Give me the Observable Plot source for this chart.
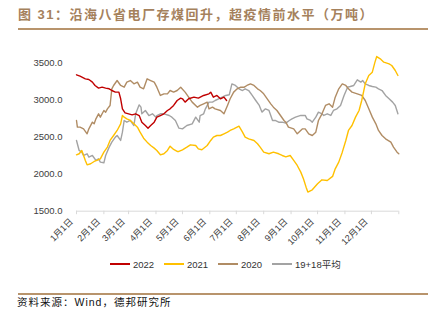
<!DOCTYPE html>
<html><head><meta charset="utf-8">
<script src="https://cdn.jsdelivr.net/npm/d3@7"></script>
<script src="https://cdn.jsdelivr.net/npm/@observablehq/plot@0.6"></script>
<style>
body{margin:0;background:#fff;}
#wrap{position:relative;width:432px;height:334px;overflow:hidden;font-family:Arial,"Liberation Sans","Noto Sans CJK SC",sans-serif;}
#title{position:absolute;left:18px;top:5px;font-size:13px;font-weight:bold;color:#a5815c;letter-spacing:1.5px;white-space:nowrap;line-height:20px;font-family:Arial,"Noto Sans CJK SC",sans-serif;}
.rule{position:absolute;left:18px;width:410px;background:#b8946c;}
#chart{position:absolute;left:0;top:40px;}
#legend{position:absolute;top:258px;left:0;width:432px;height:12px;font-size:9.5px;color:#333;}
.item{position:absolute;top:0;display:flex;align-items:center;height:12px;white-space:nowrap;}
.sw{width:20px;height:1.5px;margin-right:3px;}
#caption{position:absolute;left:17px;top:295px;font-size:10.5px;letter-spacing:1px;line-height:14px;color:#111;white-space:nowrap;}
</style>
</head>
<body>
<div id="wrap">
  <div id="title">图 31：沿海八省电厂存煤回升，超疫情前水平（万吨）</div>
  <div class="rule" style="top:28px;height:2px;"></div>
  <div id="chart"></div>
  <div id="legend"></div>
  <div class="rule" style="top:293px;height:1.5px;"></div>
  <div id="caption">资料来源：Wind，德邦研究所</div>
</div>
<script>
// Day-of-year positions for month starts and labels
const monthStartDays = [0,31,59,90,120,151,181,212,243,273,304,334,365];
const monthLabels = ["1月1日","2月1日","3月1日","4月1日","5月1日","6月1日","7月1日","8月1日","9月1日","10月1日","11月1日","12月1日"];
const yTicks = [1500,2000,2500,3000,3500];
const seriesNames = ["2022","2021","2020","19+18平均"];
const seriesColors = ["#c00000","#ffc000","#b08c64","#a3a3a3"];

const days2022 = [0,4,10,14,18,21,25,29,33,37,40,44,48,50,52,55,59,63,67,71,74,78,81,84,88,91,95,99,103,106,110,114,118,120,123,127,133,138,144,150,152,155,159,163,167,170];
const values2022 = [3343,3325,3289,3280,3244,3199,3163,3176,3163,3154,3131,3109,3109,3019,2883,2829,2816,2802,2816,2793,2703,2658,2622,2658,2703,2771,2793,2816,2861,2883,2929,2996,3028,3019,2974,3019,3041,3028,3064,3086,3109,3041,3064,3019,3041,2996];

const days2021 = [0,3,6,10,12,16,20,23,27,31,35,38,42,46,50,52,54,57,61,65,69,72,76,80,84,88,91,95,99,103,106,110,114,116,120,125,129,135,138,142,148,152,155,159,163,167,171,174,178,184,188,191,195,201,205,208,212,218,223,229,233,237,242,246,250,254,257,260,262,267,273,278,284,290,293,297,301,305,308,312,316,320,323,327,331,335,338,340,344,348,354,357,361,364];
const values2021 = [2262,2276,2321,2186,2127,2141,2172,2186,2208,2298,2366,2456,2523,2591,2681,2793,2771,2748,2726,2681,2636,2568,2487,2433,2388,2352,2321,2262,2276,2321,2379,2334,2307,2307,2330,2366,2397,2388,2343,2330,2388,2456,2501,2523,2523,2546,2568,2591,2613,2649,2568,2501,2478,2456,2411,2366,2298,2276,2298,2276,2253,2235,2253,2186,2118,2028,1938,1825,1758,1789,1870,1924,1915,1970,2073,2163,2298,2456,2591,2658,2771,2861,2996,3221,3334,3379,3514,3590,3559,3514,3491,3469,3401,3334];

const days2020 = [0,1,4,8,12,14,18,20,22,25,27,31,33,35,38,40,42,46,50,54,57,61,65,69,72,76,80,84,88,91,95,99,103,106,110,114,118,123,127,131,137,140,144,148,150,154,157,163,167,171,174,178,182,186,190,193,197,201,205,208,212,216,220,223,227,231,235,237,240,246,250,256,259,263,267,271,274,278,282,286,290,293,297,301,305,308,312,318,323,327,331,335,339,342,346,350,356,359,363,365];
const values2020 = [2726,2636,2636,2613,2546,2613,2703,2681,2748,2816,2771,2861,2838,2883,2929,3154,3199,3266,3199,3176,3244,3266,3221,3244,3176,3154,3289,3266,3244,3176,3064,3086,3086,3131,3109,3131,3176,3109,3041,2974,2906,2929,2951,2974,2883,2906,2883,2861,2816,2929,3019,3109,3154,3176,3176,3199,3221,3199,3154,3131,3086,3019,2951,2906,2861,2793,2726,2703,2636,2613,2546,2613,2613,2546,2523,2568,2726,2816,2929,2951,2906,3041,3154,3221,3199,3154,3109,3086,3064,2996,2884,2771,2681,2591,2523,2478,2433,2366,2298,2276];

const daysAvg = [0,3,6,8,12,14,18,22,25,27,31,33,37,40,44,46,50,52,54,57,61,65,67,71,73,74,78,82,86,90,91,95,99,105,108,112,116,120,125,131,135,139,140,144,146,150,154,157,161,165,169,173,176,180,184,188,191,195,199,203,207,210,214,218,222,225,229,233,237,241,244,248,254,259,261,265,267,271,274,278,280,284,288,291,295,299,303,307,310,314,318,322,324,327,331,335,339,342,346,350,354,358,361,364];
const valuesAvg = [2456,2321,2298,2253,2276,2231,2253,2186,2208,2163,2154,2253,2366,2433,2501,2523,2456,2568,2726,2703,2726,2658,2816,2937,2906,2816,2861,2793,2816,2771,2793,2816,2816,2793,2771,2726,2622,2613,2658,2681,2771,2703,2793,2816,2883,2974,2974,2996,3019,3041,3064,3073,3221,3199,3154,3131,3154,3131,3064,2996,2929,2839,2883,2861,2726,2726,2703,2703,2690,2726,2748,2771,2794,2794,2748,2726,2703,2771,2839,2816,2794,2816,2794,2861,2884,2929,3064,3176,3185,3199,3275,3244,3266,3221,3199,3185,3176,3154,3131,3064,3019,2974,2929,2816];

const seriesDays = [days2022, days2021, days2020, daysAvg];
const seriesValues = [values2022, values2021, values2020, valuesAvg];

const font = 'Arial,"Liberation Sans","Noto Sans CJK SC",sans-serif';
const drawOrder = [3,2,1,0];

const chart = Plot.plot({
  width: 432,
  height: 220,
  marginLeft: 76,
  marginRight: 33.7,
  marginTop: 22.7,
  marginBottom: 49.3,
  x: {domain: [0, 365], label: null},
  y: {domain: [1500, 3500], label: null},
  style: {fontFamily: font, fontSize: "9.5px", color: "#404040", background: "transparent"},
  marks: [
    Plot.axisY({ticks: yTicks, tickSize: 0, tickPadding: 14, tickFormat: d => d.toFixed(1), fontSize: 9.5, fill: "#404040"}),
    Plot.ruleY([yTicks[0]], {stroke: "#d9d9d9", strokeWidth: 1}),
    Plot.axisX({ticks: monthStartDays, tickSize: 3.5, tickFormat: () => "", stroke: "#d9d9d9"}),
    Plot.text(monthLabels, {x: (d, i) => monthStartDays[i], text: d => d, frameAnchor: "bottom", rotate: -45, textAnchor: "end", dx: -3, dy: 11, fontSize: 9, fill: "#404040"}),
    ...drawOrder.map(k => Plot.line(seriesValues[k], {x: seriesDays[k], y: d => d, stroke: seriesColors[k], strokeWidth: 1.4}))
  ]
});
document.getElementById("chart").appendChild(chart);

// legend
const legendLefts = [110, 164, 218, 272];
const legend = document.getElementById("legend");
seriesNames.forEach((name, i) => {
  const item = document.createElement("div");
  item.className = "item";
  item.style.left = legendLefts[i] + "px";
  const sw = document.createElement("span");
  sw.className = "sw";
  sw.style.background = seriesColors[i];
  const tx = document.createElement("span");
  tx.textContent = name;
  item.appendChild(sw);
  item.appendChild(tx);
  legend.appendChild(item);
});
</script>
</body></html>
